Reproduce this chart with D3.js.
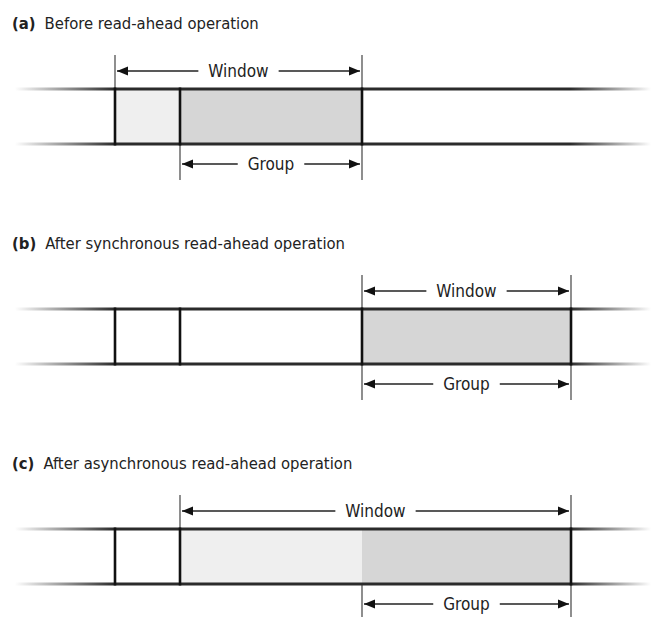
<!DOCTYPE html>
<html>
<head>
<meta charset="utf-8">
<script src="https://cdn.jsdelivr.net/npm/d3@7"></script>
<style>
  body { margin: 0; background: #fff; }
  text { font-family: "Liberation Sans Narrow", "DejaVu Sans Condensed", sans-serif; fill: #222; }
</style>
</head>
<body>
<div id="chart"></div>
<script>
// panel labels and captions
var panelTags = ["(a)", "(b)", "(c)"];
var panelTitles = ["Before read-ahead operation",
                   "After synchronous read-ahead operation",
                   "After asynchronous read-ahead operation"];

// page offsets of the block edges drawn inside each bar
var dividers = [[0, 65, 247], [0, 65, 247, 456], [0, 65, 456]];

// shaded spans: [from, to, shade]
var fills = [
  [[0, 65, "light"], [65, 247, "dark"]],
  [[247, 456, "dark"]],
  [[65, 247, "light"], [247, 456, "dark"]]
];

var windows = [[0, 247], [247, 456], [65, 456]];
var groups  = [[65, 247], [247, 456], [247, 456]];

var width = 651, height = 617;

var svg = d3.select("#chart").append("svg")
  .attr("width", width)
  .attr("height", height);

var x = d3.scaleLinear().domain([-100, 536]).range([15, 651]);
var panelY = d3.scaleLinear().domain([0, 2]).range([89, 529]); // top line of each bar

var shade = { light: "#efefef", dark: "#d6d6d6" };
var barH = 55;
var lineStart = x(-100), lineSolid = x(0), lineFade = x(455), lineEnd = x(536);

var defs = svg.append("defs");
function fadeGrad(id, x1, x2, o1, o2) {
  var g = defs.append("linearGradient").attr("id", id)
    .attr("gradientUnits", "userSpaceOnUse")
    .attr("x1", x1).attr("x2", x2).attr("y1", 0).attr("y2", 0);
  g.append("stop").attr("offset", 0).attr("stop-color", "#2b2b2b").attr("stop-opacity", o1);
  g.append("stop").attr("offset", 1).attr("stop-color", "#2b2b2b").attr("stop-opacity", o2);
}
fadeGrad("fadeIn", lineStart, lineSolid, 0, 1);
fadeGrad("fadeOut", lineFade, lineEnd, 1, 0);

function arrowHead(g, px, py, dir) {
  // dir: -1 points left, 1 points right
  g.append("path")
    .attr("d", "M" + px + "," + py + "l" + (-dir * 11) + ",-4.5l0,9z")
    .attr("fill", "#111");
}

function dimension(g, span, y, label) {
  var x1 = x(span[0]), x2 = x(span[1]);
  g.append("line")
    .attr("x1", x1 + 2).attr("x2", x2 - 2)
    .attr("y1", y).attr("y2", y)
    .attr("stroke", "#222").attr("stroke-width", 1.4);
  arrowHead(g, x1 + 2, y, -1);
  arrowHead(g, x2 - 2, y, 1);
  var gap = g.append("rect").attr("fill", "#fff");
  var t = g.append("text")
    .attr("x", (x1 + x2) / 2).attr("y", y + 6)
    .attr("text-anchor", "middle")
    .style("font-size", "17px")
    .text(label);
  var bb = t.node().getBBox();
  gap.attr("x", bb.x - 10).attr("y", y - 3)
    .attr("width", bb.width + 20).attr("height", 6);
}

panelTags.forEach(function(tag, i) {
  var top = panelY(i), bottom = top + barH;
  var g = svg.append("g");

  // caption
  var cap = g.append("text").attr("x", 12).attr("y", top - 60).style("font-size", "16.5px");
  cap.append("tspan").style("font-weight", "bold").text(tag);
  cap.append("tspan").attr("dx", 9).text(panelTitles[i]);

  // shaded pages
  g.selectAll("rect.fill")
    .data(fills[i])
    .enter().append("rect")
    .attr("class", "fill")
    .attr("x", function(d) { return x(d[0]); })
    .attr("width", function(d) { return x(d[1]) - x(d[0]); })
    .attr("y", top)
    .attr("height", barH)
    .attr("fill", function(d) { return shade[d[2]]; });

  // extension ticks for the dimensions
  var w = windows[i], gr = groups[i];
  [w[0], w[1]].forEach(function(v) {
    g.append("line").attr("x1", x(v)).attr("x2", x(v))
      .attr("y1", top - 34).attr("y2", top)
      .attr("stroke", "#444").attr("stroke-width", 1.2);
  });
  [gr[0], gr[1]].forEach(function(v) {
    g.append("line").attr("x1", x(v)).attr("x2", x(v))
      .attr("y1", bottom).attr("y2", bottom + 36)
      .attr("stroke", "#444").attr("stroke-width", 1.2);
  });

  // horizontal rails
  [top, bottom].forEach(function(y) {
    g.append("line").attr("x1", lineStart).attr("x2", lineSolid)
      .attr("y1", y).attr("y2", y)
      .attr("stroke", "url(#fadeIn)").attr("stroke-width", 3);
    g.append("line").attr("x1", lineSolid).attr("x2", lineFade)
      .attr("y1", y).attr("y2", y)
      .attr("stroke", "#2b2b2b").attr("stroke-width", 3);
    g.append("line").attr("x1", lineFade).attr("x2", lineEnd)
      .attr("y1", y).attr("y2", y)
      .attr("stroke", "url(#fadeOut)").attr("stroke-width", 3);
  });

  // page dividers
  g.selectAll("line.div")
    .data(dividers[i])
    .enter().append("line")
    .attr("class", "div")
    .attr("x1", function(d) { return x(d); })
    .attr("x2", function(d) { return x(d); })
    .attr("y1", top - 1.5).attr("y2", bottom + 1.5)
    .attr("stroke", "#111").attr("stroke-width", 2.6);

  dimension(g, w, top - 18, "Window");
  dimension(g, gr, bottom + 20, "Group");
});
</script>
</body>
</html>
